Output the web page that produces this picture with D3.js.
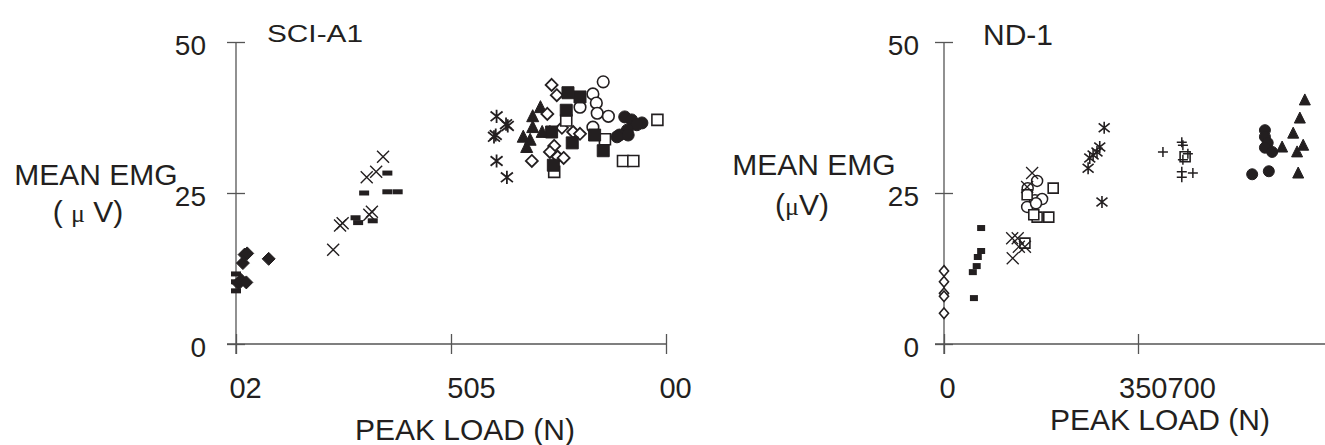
<!DOCTYPE html>
<html>
<head>
<meta charset="utf-8">
<script src="https://cdn.jsdelivr.net/npm/d3@7"></script>
<style>
  body { margin: 0; background: #fff; }
  text { font-family: "Liberation Sans", Arial, sans-serif; fill: #231f20; }
</style>
</head>
<body>
<svg width="1325" height="445"></svg>
<script>
// ---- data: [peak load, mean EMG] ----

// left panel, SCI-A1
var sciFilledDiamond = [[3,10.0],[6,10.6],[12,10.2],[8,13.4],[10,14.8],[13,15.0],[38,14.1]];
var sciDash = [[0,11.6],[0,10.3],[0,8.8],[139,20.9],[142,20.1],[159,20.4],[149,25.0],[176,25.2],[188,25.2],[176,28.3]];
var sciCross = [[113,15.6],[121,19.6],[124,20.0],[155,21.4],[158,21.9],[152,27.6],[163,28.5],[171,31.0]];
var sciAsterisk = [[303,37.7],[314,36.4],[316,36.1],[300,34.3],[302,34.6],[303,30.3],[315,27.6]];
var sciFilledTriangle = [[354,39.2],[345,37.7],[345,35.9],[334,34.3],[342,33.8],[338,32.6],[356,35.1],[365,35.1]];
var sciOpenDiamond = [[367,42.9],[373,41.2],[362,38.1],[379,35.8],[392,35.1],[400,34.8],[370,32.8],[365,31.8],[344,30.3],[374,31.0],[381,30.8]];
var sciFilledSquare = [[386,41.6],[400,40.9],[384,38.7],[367,35.1],[391,33.3],[417,34.6],[427,32.0],[369,29.6]];
var sciOpenSquare = [[490,37.1],[429,33.9],[450,30.3],[462,30.3],[370,28.5],[384,37.0]];
var sciOpenCircle = [[427,43.4],[415,41.4],[419,39.9],[420,38.2],[433,37.7],[400,39.2],[415,35.9]];
var sciFilledCircle = [[452,37.6],[460,37.1],[472,36.6],[466,36.3],[455,35.4],[446,34.6],[456,34.6],[443,34.3]];

// right panel, ND-1
var ndOpenDiamond = [[0,12.1],[0,10.3],[0,8.4],[0,7.9],[0,5.1]];
var ndDash = [[67,19.2],[67,15.4],[61,14.4],[59,12.9],[52,11.9],[54,7.6]];
var ndCross = [[124,14.2],[123,17.5],[133,17.5],[135,16.1],[146,16.1],[159,28.3],[150,26.0]];
var ndOpenSquare = [[146,16.7],[197,25.8],[189,21.0],[168,21.0],[162,21.4],[150,24.7],[435,31.0]];
var ndOpenCircle = [[168,27.0],[151,25.8],[164,23.8],[177,24.0],[150,22.7],[166,23.3]];
var ndAsterisk = [[289,35.8],[281,32.6],[276,31.8],[269,31.3],[263,30.8],[260,29.1],[285,23.5]];
var ndPlus = [[395,31.8],[429,33.4],[431,32.9],[440,31.5],[431,30.5],[429,28.5],[449,28.3],[429,27.6]];
var ndFilledCircle = [[579,35.4],[579,34.3],[584,33.3],[579,32.5],[592,31.8],[556,28.1],[586,28.6]];
var ndFilledTriangle = [[651,40.4],[642,37.4],[630,34.9],[610,32.6],[648,32.9],[637,31.8],[639,28.3]];

// axis ticks and their (odd) printed labels
var yTicks = [0, 25, 50];
var sciXTicks = [0, 250, 500];
var sciXLabels = ["02", "505", "00"];
var ndXTicks = [0, 350];
var ndXLabels = ["0", "350700"];

var ink = "#231f20", axisCol = "#555";
var svg = d3.select("svg");

// shared y scale, one x scale per panel
var y = d3.scaleLinear().domain([0, 50]).range([344, 42]);
var xSci = d3.scaleLinear().domain([0, 500]).range([236, 666]);
var xNd = d3.scaleLinear().domain([0, 700]).range([944, 1332]);

// marker outlines centred on 0,0
function shape(type, s) {
  switch (type) {
    case "diamond": return "M0," + (-s) + "L" + s + ",0L0," + s + "L" + (-s) + ",0Z";
    case "tallDiamond": return "M0," + (-s * 1.1) + "L" + (s * 0.95) + ",0L0," + (s * 1.1) + "L" + (-s * 0.95) + ",0Z";
    case "square": return "M" + (-s) + "," + (-s) + "h" + (2 * s) + "v" + (2 * s) + "h" + (-2 * s) + "Z";
    case "circle": return "M" + s + ",0A" + s + "," + s + " 0 1,1 " + (-s) + ",0A" + s + "," + s + " 0 1,1 " + s + ",0Z";
    case "triangle": return "M0," + (-s * 1.1) + "L" + s + "," + (s * 0.9) + "L" + (-s) + "," + (s * 0.9) + "Z";
    case "cross": return "M" + (-s) + "," + (-s) + "L" + s + "," + s + "M" + (-s) + "," + s + "L" + s + "," + (-s);
    case "asterisk": return "M" + (-s) + "," + (-s * 0.8) + "L" + s + "," + (s * 0.8) + "M" + (-s) + "," + (s * 0.8) + "L" + s + "," + (-s * 0.8) + "M0," + (-s * 1.1) + "L0," + (s * 1.1);
    case "plus": return "M" + (-s) + ",0L" + s + ",0M0," + (-s) + "L0," + s;
    case "dash": return "M" + (-s) + "," + (-s * 0.5) + "h" + (2 * s) + "v" + s + "h" + (-2 * s) + "Z";
    case "block": return "M" + (-s) + "," + (-s * 0.75) + "h" + (2 * s) + "v" + (1.5 * s) + "h" + (-2 * s) + "Z";
  }
}

function drawSeries(g, x, data, type, size, style, sw) {
  g.append("g").selectAll("path")
    .data(data)
    .enter()
    .append("path")
    .attr("transform", function(d) { return "translate(" + x(d[0]) + "," + y(d[1]) + ")"; })
    .attr("d", shape(type, size))
    .attr("fill", style == "filled" ? ink : (style == "open" ? "#fff" : "none"))
    .attr("stroke", style == "filled" && (type == "dash" || type == "block") ? "none" : ink)
    .attr("stroke-width", sw);
}

function drawAxes(x, xTicks, xLabels, labelShift, yLabelGap, xEnd) {
  var g = svg.append("g");
  var x0 = x(0);
  // axis lines, ticks cross the lines
  g.append("line").attr("x1", x0).attr("x2", x0).attr("y1", y(50)).attr("y2", y(0) + 10)
    .attr("stroke", axisCol).attr("stroke-width", 1.3);
  g.append("line").attr("x1", x0 - 9).attr("x2", xEnd).attr("y1", y(0)).attr("y2", y(0))
    .attr("stroke", axisCol).attr("stroke-width", 1.3);

  var ya = g.append("g").attr("transform", "translate(" + x0 + ",0)")
    .call(d3.axisLeft(y).tickValues(yTicks).tickSizeOuter(0).tickSizeInner(9).tickPadding(yLabelGap));
  ya.select(".domain").remove();
  ya.selectAll(".tick line").attr("x2", -9).attr("x1", 9).attr("stroke", axisCol).attr("stroke-width", 1.3);
  ya.selectAll(".tick text").attr("font-size", 28).attr("font-family", null).attr("dy", "0.45em").attr("fill", ink);

  var xa = g.append("g").attr("transform", "translate(0," + y(0) + ")")
    .call(d3.axisBottom(x).tickValues(xTicks).tickSizeOuter(0).tickSizeInner(10)
      .tickFormat(function(d, i) { return xLabels[i]; }));
  xa.select(".domain").remove();
  xa.selectAll(".tick line").attr("y1", -10).attr("y2", 10).attr("stroke", axisCol).attr("stroke-width", 1.3);
  xa.selectAll(".tick text").attr("font-size", 29).attr("font-family", null).attr("fill", ink)
    .attr("y", 54).attr("dy", 0)
    .attr("dx", function(d, i) { return labelShift[i]; });
}

// ---------- left panel ----------
drawAxes(xSci, sciXTicks, sciXLabels, [9, 20, 9], 21, 666);
var gL = svg.append("g");
drawSeries(gL, xSci, sciAsterisk, "asterisk", 6, "line", 1.8);
drawSeries(gL, xSci, sciOpenCircle, "circle", 5.8, "open", 1.6);
drawSeries(gL, xSci, sciFilledTriangle, "triangle", 6, "filled", 1);
drawSeries(gL, xSci, sciOpenDiamond, "diamond", 6, "open", 1.8);
drawSeries(gL, xSci, sciOpenSquare, "square", 5.5, "open", 1.6);
drawSeries(gL, xSci, sciFilledSquare, "square", 6, "filled", 1);
drawSeries(gL, xSci, sciFilledCircle, "circle", 6, "filled", 1);
drawSeries(gL, xSci, sciCross, "cross", 6, "line", 1.4);
drawSeries(gL, xSci, sciDash, "dash", 5, "filled", 1);
drawSeries(gL, xSci, sciFilledDiamond, "diamond", 6.5, "filled", 1);

svg.append("text").attr("x", 267).attr("y", 42).attr("font-size", 24)
  .attr("textLength", 96).attr("lengthAdjust", "spacingAndGlyphs").text("SCI-A1");
svg.append("text").attr("x", 96).attr("y", 185).attr("font-size", 30)
  .attr("text-anchor", "middle").text("MEAN EMG");
var uL = svg.append("text").attr("x", 88).attr("y", 222).attr("font-size", 30).attr("text-anchor", "middle");
uL.append("tspan").text("( ");
uL.append("tspan").attr("font-family", "Liberation Serif, serif").attr("font-size", 26).text("μ");
uL.append("tspan").text(" V)");
svg.append("text").attr("x", 465).attr("y", 440).attr("font-size", 30)
  .attr("text-anchor", "middle").text("PEAK LOAD (N)");

// ---------- right panel ----------
drawAxes(xNd, ndXTicks, ndXLabels, [3, 29], 16, 1325);
var gR = svg.append("g");
drawSeries(gR, xNd, ndOpenCircle, "circle", 5.5, "open", 1.5);
drawSeries(gR, xNd, ndOpenSquare, "square", 5, "open", 1.6);
drawSeries(gR, xNd, ndCross, "cross", 6, "line", 1.3);
drawSeries(gR, xNd, ndAsterisk, "asterisk", 5.5, "line", 1.6);
drawSeries(gR, xNd, ndPlus, "plus", 5, "line", 1.5);
drawSeries(gR, xNd, ndOpenDiamond, "tallDiamond", 4.8, "open", 1.6);
drawSeries(gR, xNd, ndDash, "block", 4, "filled", 1);
drawSeries(gR, xNd, ndFilledCircle, "circle", 5.5, "filled", 1);
drawSeries(gR, xNd, ndFilledTriangle, "triangle", 5.5, "filled", 1);

svg.append("text").attr("x", 983).attr("y", 45).attr("font-size", 30).text("ND-1");
svg.append("text").attr("x", 814).attr("y", 175).attr("font-size", 30)
  .attr("text-anchor", "middle").text("MEAN EMG");
var uR = svg.append("text").attr("x", 802).attr("y", 215).attr("font-size", 30).attr("text-anchor", "middle");
uR.append("tspan").text("(");
uR.append("tspan").attr("font-family", "Liberation Serif, serif").attr("font-size", 26).text("μ");
uR.append("tspan").text("V)");
svg.append("text").attr("x", 1160).attr("y", 430).attr("font-size", 30)
  .attr("text-anchor", "middle").text("PEAK LOAD (N)");
</script>
</body>
</html>
